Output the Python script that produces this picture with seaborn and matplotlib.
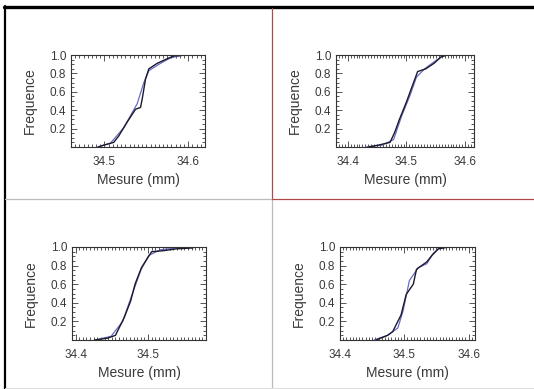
import numpy as np
import pandas as pd
import seaborn as sns
import matplotlib.pyplot as plt
from matplotlib.lines import Line2D
from matplotlib.ticker import MultipleLocator, FormatStrFormatter

sns.set_style("white")
plt.rcParams['font.family'] = ['Liberation Sans', 'DejaVu Sans']

# panel 1 (top left)
p1_emp_x = [34.493, 34.499, 34.511, 34.517, 34.527, 34.537, 34.543, 34.545, 34.549, 34.553, 34.563, 34.575, 34.583, 34.599]
p1_emp_y = [0.0, 0.02, 0.05, 0.12, 0.27, 0.41, 0.43, 0.52, 0.74, 0.85, 0.91, 0.96, 0.99, 1.0]
p1_fit_x = [34.491, 34.507, 34.523, 34.539, 34.547, 34.553, 34.567, 34.579, 34.595]
p1_fit_y = [0.0, 0.04, 0.21, 0.47, 0.70, 0.83, 0.91, 0.97, 1.0]

# panel 2 (top right)
p2_emp_x = [34.435, 34.452, 34.472, 34.480, 34.488, 34.500, 34.508, 34.519, 34.533, 34.547, 34.559, 34.570]
p2_emp_y = [0.0, 0.02, 0.05, 0.16, 0.30, 0.49, 0.63, 0.82, 0.85, 0.91, 0.98, 1.0]
p2_fit_x = [34.430, 34.458, 34.478, 34.492, 34.506, 34.517, 34.531, 34.548, 34.562]
p2_fit_y = [0.0, 0.02, 0.08, 0.34, 0.56, 0.76, 0.85, 0.93, 0.99]

# panel 3 (bottom left)
p3_emp_x = [34.426, 34.444, 34.455, 34.467, 34.476, 34.482, 34.491, 34.505, 34.521, 34.539, 34.562]
p3_emp_y = [0.0, 0.02, 0.05, 0.24, 0.42, 0.60, 0.78, 0.95, 0.96, 0.98, 0.99]
p3_fit_x = [34.428, 34.449, 34.465, 34.478, 34.490, 34.501, 34.517, 34.539]
p3_fit_y = [0.0, 0.04, 0.20, 0.49, 0.75, 0.91, 0.97, 0.99]

# panel 4 (bottom right)
p4_emp_x = [34.456, 34.474, 34.482, 34.495, 34.503, 34.514, 34.519, 34.527, 34.535, 34.543, 34.553, 34.569]
p4_emp_y = [0.0, 0.05, 0.09, 0.27, 0.49, 0.60, 0.76, 0.80, 0.84, 0.91, 0.98, 1.0]
p4_fit_x = [34.453, 34.474, 34.490, 34.498, 34.508, 34.522, 34.535, 34.545, 34.553, 34.566]
p4_fit_y = [0.0, 0.05, 0.13, 0.31, 0.64, 0.78, 0.82, 0.93, 0.98, 1.0]

panels = [
    (p1_emp_x, p1_emp_y, p1_fit_x, p1_fit_y, (34.46, 34.62), [34.5, 34.6]),
    (p2_emp_x, p2_emp_y, p2_fit_x, p2_fit_y, (34.38, 34.615), [34.4, 34.5, 34.6]),
    (p3_emp_x, p3_emp_y, p3_fit_x, p3_fit_y, (34.395, 34.58), [34.4, 34.5]),
    (p4_emp_x, p4_emp_y, p4_fit_x, p4_fit_y, (34.40, 34.61), [34.4, 34.5, 34.6]),
]

W, H = 534, 389
fig = plt.figure(figsize=(W / 100, H / 100), dpi=100)
fig.patch.set_facecolor("white")

# axes boxes in pixels: left, right, top, bottom
boxes = [(71, 205, 55, 147), (336, 474, 55, 147), (72, 206, 247, 340), (340, 475, 247, 340)]

for (ex, ey, fx, fy, xlim, xt), (l, r, t, b) in zip(panels, boxes):
    ax = fig.add_axes([l / W, 1 - b / H, (r - l) / W, (b - t) / H])
    sns.lineplot(x=fx, y=fy, ax=ax, color="#6a6ac8", linewidth=0.9, estimator=None)
    sns.lineplot(x=ex, y=ey, ax=ax, color="#1a1a2a", linewidth=1.0, estimator=None)
    ax.set_xlim(*xlim)
    ax.set_ylim(0, 1.0)
    ax.set_xticks(xt)
    ax.set_yticks([0.2, 0.4, 0.6, 0.8, 1.0])
    ax.xaxis.set_minor_locator(MultipleLocator(0.005))
    ax.yaxis.set_minor_locator(MultipleLocator(0.05))
    ax.xaxis.set_major_formatter(FormatStrFormatter("%.1f"))
    ax.yaxis.set_major_formatter(FormatStrFormatter("%.1f"))
    ax.tick_params(which="both", direction="in", top=True, right=True, bottom=True, left=True,
                   colors="#3a3a3a", width=0.6)
    ax.tick_params(which="major", length=4)
    ax.tick_params(which="minor", length=2)
    ax.tick_params(axis="x", which="major", labelsize=8.5, pad=6.5)
    ax.tick_params(axis="y", which="major", labelsize=8.5, pad=3.5)
    for s in ax.spines.values():
        s.set_color("#333333")
        s.set_linewidth(0.8)
    ax.set_xlabel("Mesure (mm)", fontsize=10, color="#3a3a3a", labelpad=3.5)
    ax.set_ylabel("Frequence", fontsize=10, color="#3a3a3a", labelpad=9)

# frame lines around the four cells
def px_line(x0, y0, x1, y1, color, lw):
    fig.add_artist(Line2D([x0 / W, x1 / W], [1 - y0 / H, 1 - y1 / H], color=color, linewidth=lw))

px_line(4, 6.5, W, 6.5, "black", 2.4)
px_line(5, 6, 5, H, "black", 1.6)
px_line(272, 8, 272, 199, "#b04a4a", 0.9)
px_line(272, 199, 272, H, "#bbbbbb", 0.9)
px_line(5, 199, 272, 199, "#bbbbbb", 0.9)
px_line(272, 199, W, 199, "#b04a4a", 0.9)
px_line(5, 387.5, W, 387.5, "#dddddd", 0.8)

fig.savefig("out.png", dpi=100)
